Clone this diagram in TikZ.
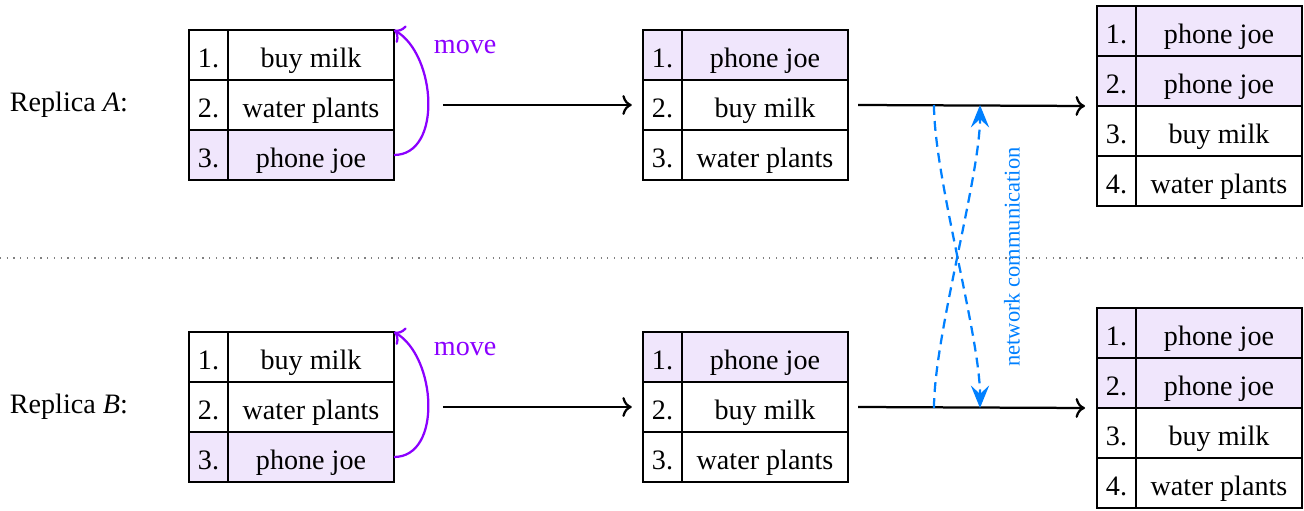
\documentclass[tikz,border=0pt]{standalone}
\usepackage{fontspec}
\setmainfont{Liberation Serif}
\usetikzlibrary{positioning,arrows.meta}
\definecolor{movecol}{RGB}{139,0,255}
\definecolor{movefill}{RGB}{240,230,252}
\definecolor{netcol}{RGB}{0,128,255}
\tikzset{
    idx/.style={draw,minimum width=4.875mm,minimum height=6.25mm,inner sep=0pt,outer sep=0pt,text height=11.2pt,text depth=2.4pt},
    item/.style={draw,minimum width=20.75mm,minimum height=6.25mm,inner sep=0pt,outer sep=0pt,text height=11.2pt,text depth=2.4pt},
    move/.style={->,movecol,thick},
    net/.style={netcol,thick,dash pattern=on 3.5pt off 2.2pt},
}
\begin{document}
\begin{tikzpicture}[x=0.625cm,y=0.625cm]
    \useasboundingbox (0,0) rectangle (26.08,10.2);
    \draw[dotted,gray] (0,5.04)--(26.08,5.04);
    \foreach \r/\R/\y in {a/A/10.1,b/B/4.06}{
        \node[anchor=west] (rep\r) at (0,\y-2) {Replica \textit{\R}:};
        % before the move
        \foreach \i/\txt/\c in {1/buy milk/white,2/water plants/white,3/phone joe/movefill}{
            \node[idx,fill=\c] (\r1n\i) at (4.17,\y-\i) {\i.};
            \node[item,fill=\c,right=0pt of \r1n\i] (\r1t\i) {\txt};
        }
        \draw[move] (\r1t3.east) to[out=0,in=-30] (\r1t1.north east);
        \node[movecol,anchor=west] (\r mv) at ([xshift=3.75mm,yshift=-2.1mm]\r1t1.north east) {move};
        % after the move
        \foreach \i/\txt/\c in {1/phone joe/movefill,2/buy milk/white,3/water plants/white}{
            \node[idx,fill=\c] (\r2n\i) at (13.25,\y-\i) {\i.};
            \node[item,fill=\c,right=0pt of \r2n\i] (\r2t\i) {\txt};
        }
        % after merging
        \foreach \i/\txt/\c in {1/phone joe/movefill,2/phone joe/movefill,3/buy milk/white,4/water plants/white}{
            \node[idx,fill=\c] (\r3n\i) at (22.33,\y+0.48-\i) {\i.};
            \node[item,fill=\c,right=0pt of \r3n\i] (\r3t\i) {\txt};
        }
        \draw[->,thick] ([xshift=6.1mm]\r1t2.east)--([xshift=-1.4mm]\r2n2.west);
        \draw[->,thick] ([xshift=1.25mm]\r2t2.east)--([xshift=-1.5mm]\r3n2.south west);
    }
    \coordinate (sa) at (18.68,8.1);
    \coordinate (ra) at (19.6,8.1);
    \coordinate (sb) at (18.68,2.04);
    \coordinate (rb) at (19.6,2.04);
    \draw[net,-{Stealth[length=8pt,width=6.5pt,inset=3pt]}] (sa) to[out=-90,in=90,looseness=0.6] (rb);
    \draw[net,-{Stealth[length=8pt,width=6.5pt,inset=3pt]}] (sb) to[out=90,in=-90,looseness=0.6] (ra);
    \node[netcol,font=\footnotesize,rotate=90] (netlbl) at (20.24,5.06) {network communication};
\end{tikzpicture}
\end{document}
